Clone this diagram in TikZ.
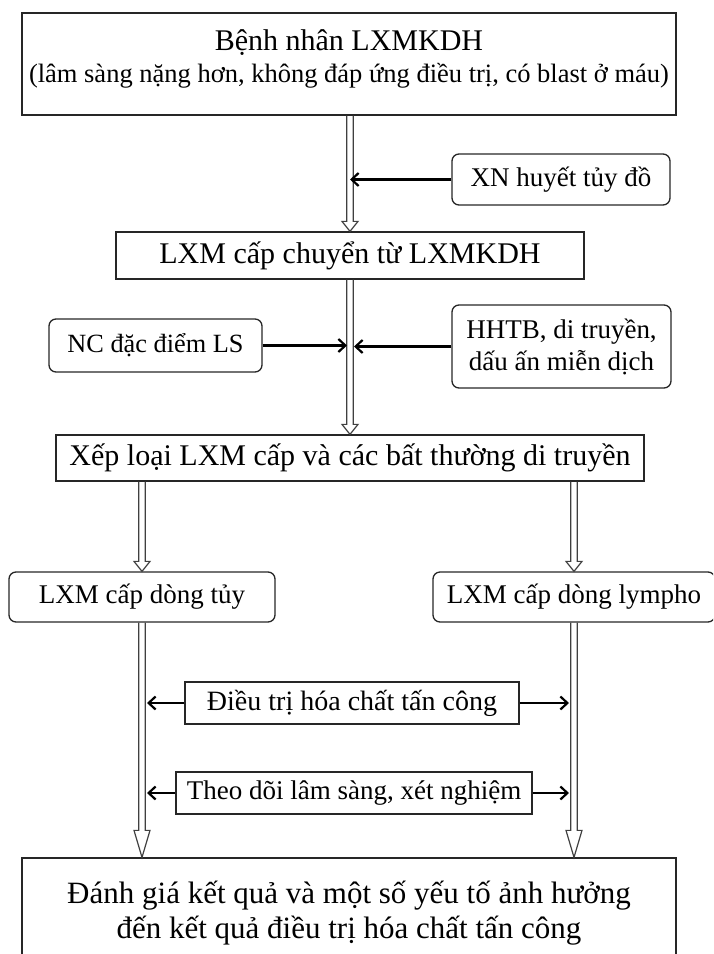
\documentclass[tikz,border=0pt]{standalone}
\usepackage{fontspec}
\setmainfont{Liberation Serif}
\usetikzlibrary{arrows.meta,calc}
\begin{document}
\begin{tikzpicture}[x=1pt,y=-1pt,
  box/.style={draw=black!85, line width=1.3pt, inner sep=0pt, align=center, font=\fontsize{27}{32}\selectfont},
  rbox/.style={box, rounded corners=7pt},
  big/.style={font=\fontsize{30}{34}\selectfont},
  harr/.style={line width=2.2pt, -{Straight Barb[length=7pt,width=13pt]}},
  dbl/.style={draw=black!75, line width=1.2pt, to path={let \p1=(\tikztostart), \p2=(\tikztotarget) in (\x1-3.2pt,\y1) -- (\x1-3.2pt,\y2+#1) -- (\x1-8pt,\y2+#1) -- (\x1,\y2) -- (\x1+8pt,\y2+#1) -- (\x1+3.2pt,\y2+#1) -- (\x1+3.2pt,\y1)}},
  dbl/.default=10pt
]
\useasboundingbox (0,0) rectangle (713,954);
\clip (0,0) rectangle (713,954);
\node[box, minimum width=654pt, minimum height=102pt, text depth=16pt] (b1) at (349,64)
  {\fontsize{30}{34}\selectfont Bệnh nhân LXMKDH\\\fontsize{26.5}{34}\selectfont (lâm sàng nặng hơn, không đáp ứng điều trị, có blast ở máu)};
\node[rbox, minimum width=218pt, minimum height=51pt] (xn) at (561,179.5) {XN huyết tủy đồ};
\node[box, big, minimum width=468pt, minimum height=47pt] (b2) at (350,255.5) {LXM cấp chuyển từ LXMKDH};
\node[rbox, minimum width=213pt, minimum height=53pt, font=\fontsize{26.3}{32}\selectfont] (nc) at (155.5,345.5) {NC đặc điểm LS};
\node[rbox, minimum width=219pt, minimum height=83pt] (hh) at (561.5,346.5) {HHTB, di truyền,\\dấu ấn miễn dịch};
\node[box, big, minimum width=588pt, minimum height=46pt] (b3) at (350,458) {Xếp loại LXM cấp và các bất thường di truyền};
\node[rbox, minimum width=266pt, minimum height=50pt] (tuy) at (142,597) {LXM cấp dòng tủy};
\node[rbox, minimum width=282pt, minimum height=50pt] (ly) at (574,597) {LXM cấp dòng lympho};
\node[box, minimum width=334pt, minimum height=42pt, font=\fontsize{28}{32}\selectfont] (dt) at (352,703) {Điều trị hóa chất tấn công};
\node[box, minimum width=356pt, minimum height=42pt] (td) at (354,793) {Theo dõi lâm sàng, xét nghiệm};
\node[box, minimum width=654pt, minimum height=111pt, font=\fontsize{31}{35}\selectfont] (fin) at (349,913.5) {Đánh giá kết quả và một số yếu tố ảnh hưởng\\đến kết quả điều trị hóa chất tấn công};
\draw[dbl] (b1.south -| b2.north) to (b2.north);
\draw[dbl] (b2.south) to (b3.north);
\draw[dbl] (b3.south -| tuy.north) to (tuy.north);
\draw[dbl] (b3.south -| ly.north) to (ly.north);
\draw[dbl=27pt] (tuy.south) to (fin.north -| tuy.south);
\draw[dbl=27pt] (ly.south) to (fin.north -| ly.south);
\draw[harr] (xn.west) -- (xn.west -| b2.north);
\draw[harr] (nc.east) -- ($(nc.east -| b2.south)+(-3,0)$);
\draw[harr] (hh.west) -- ($(hh.west -| b2.south)+(4,0)$);
\draw[harr] (dt.west) -- ($(dt.west -| tuy.south)+(5,0)$);
\draw[harr] (dt.east) -- ($(dt.east -| ly.south)+(-5,0)$);
\draw[harr] (td.west) -- ($(td.west -| tuy.south)+(5,0)$);
\draw[harr] (td.east) -- ($(td.east -| ly.south)+(-5,0)$);
\end{tikzpicture}
\end{document}
